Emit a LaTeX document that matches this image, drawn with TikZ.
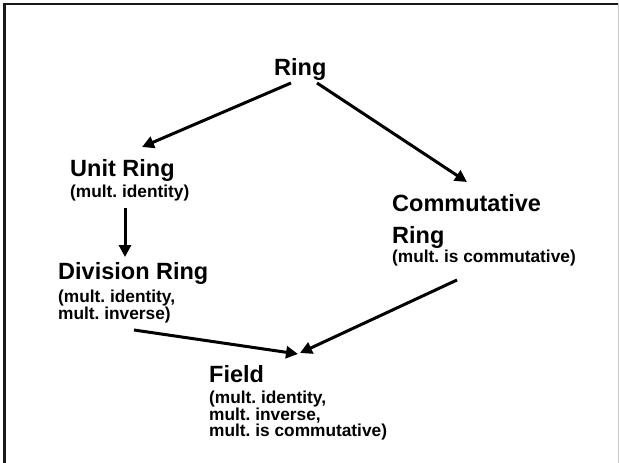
\documentclass[tikz,border=0pt]{standalone}
\usepackage{fontspec}
\setmainfont{Liberation Sans}
\usetikzlibrary{arrows.meta}
\frenchspacing
\tikzset{
  titletext/.style={anchor=base west, inner sep=0pt, font=\fontsize{23.5}{28}\selectfont\bfseries},
  subtext/.style={anchor=base west, inner sep=0pt, font=\fontsize{17.3}{20}\selectfont\bfseries},
  conn/.style={line width=3pt, -{Triangle[length=12pt,width=12pt]}},
}
\begin{document}
\begin{tikzpicture}[x=1pt,y=-1pt]
\useasboundingbox (0,0) rectangle (619,463);
\draw[line width=2.5pt, black!90] (4.5,475) -- (4.5,4) -- (618,4);
\draw[line width=1pt, black!20] (618.5,3) -- (618.5,475);
% nodes
\node[titletext] (ring) at (274,75) {Ring};
\node[titletext] (unit) at (70,176) {Unit Ring};
\node[subtext] (unitsub) at (70,197) {(mult. identity)};
\node[titletext] (div) at (58,279) {Division Ring};
\node[subtext] (divsub1) at (58,302) {(mult. identity,};
\node[subtext] (divsub2) at (58,319) {mult. inverse)};
\node[titletext] (comm1) at (392,211) {Commutative};
\node[titletext] (comm2) at (392,243) {Ring};
\node[subtext] (commsub) at (392,262) {(mult. is commutative)};
\node[titletext] (field) at (209,382) {Field};
\node[subtext] (fieldsub1) at (209,403) {(mult. identity,};
\node[subtext] (fieldsub2) at (209,420) {mult. inverse,};
\node[subtext] (fieldsub3) at (209,436) {mult. is commutative)};
% connectors
\draw[conn] ([shift={(17,8)}]ring.base west) -- ([shift={(72,-29)}]unit.base west);
\draw[conn] ([shift={(43,8)}]ring.base west) -- ([shift={(75,-29)}]comm1.base west);
\draw[conn] ([shift={(55,11)}]unitsub.base west) -- ([shift={(67,-22)}]div.base west);
\draw[conn] ([shift={(76,11)}]divsub2.base west) -- ([shift={(89,-28)}]field.base west);
\draw[conn] ([shift={(65,18)}]commsub.base west) -- ([shift={(91,-29)}]field.base west);
\end{tikzpicture}
\end{document}
